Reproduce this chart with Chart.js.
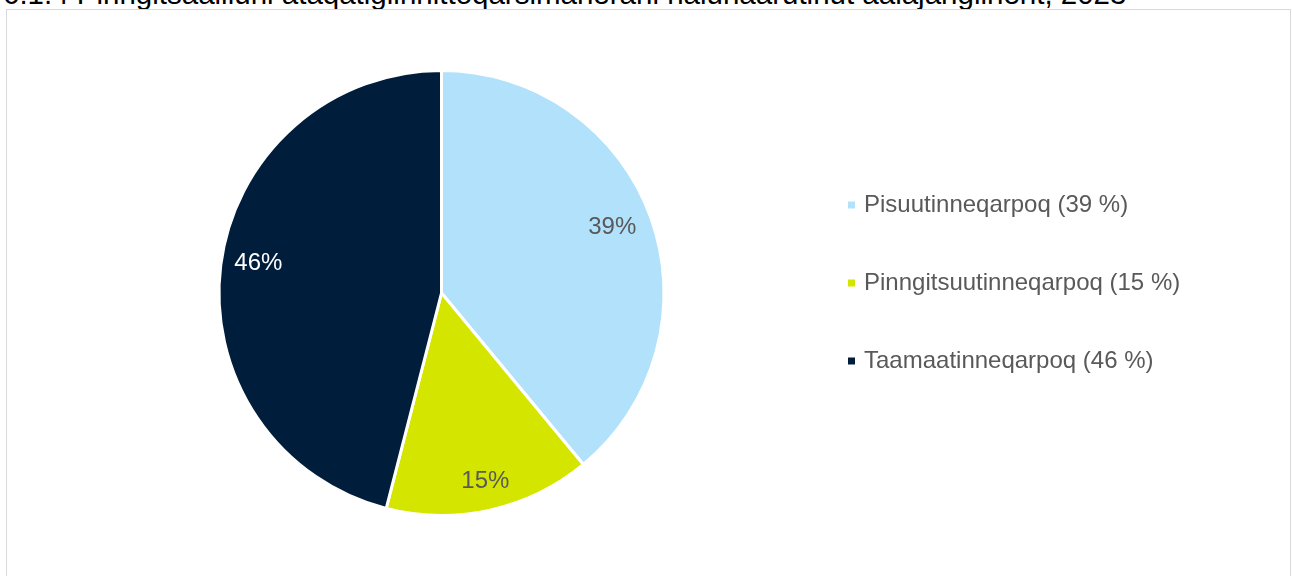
<!DOCTYPE html>
<html>
<head>
<meta charset="utf-8">
<script src="https://cdn.jsdelivr.net/npm/chart.js@4/dist/chart.umd.min.js"></script>
<style>
  html, body { margin: 0; padding: 0; background: #ffffff; overflow: hidden; }
  body { width: 1292px; height: 576px; position: relative; }
  #title {
    position: absolute; left: 3px; top: -21px; white-space: nowrap;
    font-family: "Liberation Sans", Arial, sans-serif; font-size: 29.5px; line-height: 29.5px; color: #000000;
  }
  #frame {
    position: absolute; left: 6px; top: 9px; width: 1285px; height: 620px;
    border: 1px solid #d9d9d9; box-sizing: border-box;
  }
  #c { position: absolute; left: 0; top: 0; }
</style>
</head>
<body>
<div id="title">6.1.4 Pinngitsaalliuni ataqatigiinnittoqarsimanerani nalunaarutinut aalajangiinerit, 2023</div>
<div id="frame"></div>
<canvas id="c" width="1292" height="576"></canvas>
<script>
// ---- data ----
const categories = ['Pisuutinneqarpoq', 'Pinngitsuutinneqarpoq', 'Taamaatinneqarpoq'];
const values = [39, 15, 46];
const sliceColors = ['#b2e1fc', '#d4e600', '#001e3c'];
const labelColors = ['#595959', '#595959', '#ffffff'];

const FONT = '"Liberation Sans", Arial, sans-serif';
const LEGEND_W = 1292 - 797;

const legendTweak = {
  id: 'legendTweak',
  beforeInit(chart) {
    const legend = chart.legend;
    const orig = legend.fit;
    legend.fit = function () { orig.call(this); this.width = LEGEND_W; };
  },
  afterLayout(chart) {
    chart.legend.top -= 10;
    chart.legend.bottom -= 10;
  }
};

const sliceLabels = {
  id: 'sliceLabels',
  afterDatasetsDraw(chart, args, opts) {
    const ctx = chart.ctx;
    const meta = chart.getDatasetMeta(0);
    ctx.save();
    ctx.font = '24px ' + FONT;
    ctx.textAlign = 'center';
    ctx.textBaseline = 'middle';
    meta.data.forEach((arc, i) => {
      const p = arc.getProps(['x', 'y', 'startAngle', 'endAngle', 'outerRadius'], true);
      const mid = (p.startAngle + p.endAngle) / 2 + opts.shift[i] * Math.PI / 180;
      const r = p.outerRadius * opts.radial[i];
      ctx.fillStyle = labelColors[i];
      ctx.fillText(values[i] + '%', p.x + Math.cos(mid) * r, p.y + Math.sin(mid) * r + 2);
    });
    ctx.restore();
  }
};

new Chart(document.getElementById('c'), {
  type: 'pie',
  data: {
    labels: categories,
    datasets: [{
      data: values,
      backgroundColor: sliceColors,
      borderColor: '#ffffff',
      borderWidth: 3,
      hoverBorderWidth: 3,
      hoverOffset: 0
    }]
  },
  options: {
    responsive: false,
    animation: false,
    devicePixelRatio: 1,
    layout: { padding: { left: 86, right: 0, top: 69, bottom: 59 } },
    plugins: {
      tooltip: { enabled: false },
      sliceLabels: { radial: [0.825, 0.862, 0.835], shift: [-1.7, -0.6, 2.5] },
      legend: {
        position: 'right',
        align: 'center',
        labels: {
          usePointStyle: true,
          pointStyle: 'rect',
          boxWidth: 1,
          boxHeight: 7,
          padding: 54,
          color: '#595959',
          font: { family: FONT, size: 24 },
          generateLabels(chart) {
            const items = Chart.overrides.pie.plugins.legend.labels.generateLabels(chart);
            return items.map((it, i) => Object.assign({}, it, {
              text: categories[i] + ' (' + values[i] + ' %)',
              lineWidth: 0,
              strokeStyle: 'rgba(0,0,0,0)'
            }));
          }
        }
      }
    }
  },
  plugins: [legendTweak, sliceLabels]
});
</script>
</body>
</html>
